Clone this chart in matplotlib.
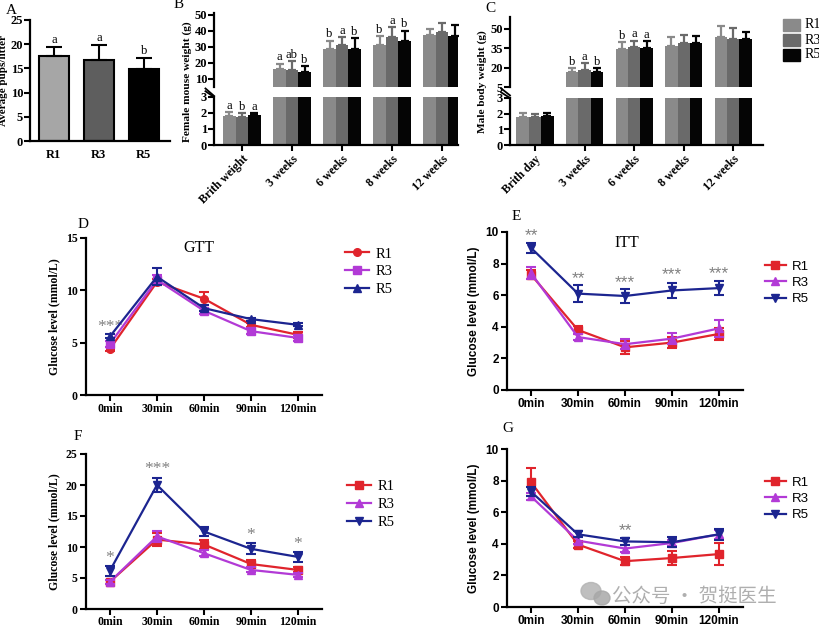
import matplotlib
matplotlib.use("Agg")
import matplotlib.pyplot as plt
from matplotlib.patches import Ellipse
import numpy as np

W, H = 820, 630
SERIF = "Liberation Serif"
SANS = "Liberation Sans"

groups = ["R1", "R3", "R5"]

# A - litter size
pups_mean = [17.6, 16.8, 14.9]
pups_err = [1.8, 3.1, 2.3]
pups_letters = ["a", "a", "b"]

# B - female weight
female_ages = ["Brith weight", "3 weeks", "6 weeks", "8 weeks", "12 weeks"]
female_r1 = [1.8, 16.2, 28.7, 30.9, 37.5]
female_r3 = [1.75, 15.3, 31.4, 36.0, 38.9]
female_r5 = [1.85, 14.3, 28.7, 33.9, 37.0]
female_r1_err = [0.25, 3.3, 5.2, 5.6, 3.7]
female_r3_err = [0.25, 5.7, 4.6, 6.0, 6.1]
female_r5_err = [0.15, 3.5, 6.7, 6.1, 6.5]
female_r1_letters = ["a", "a", "b", "b", ""]
female_r3_letters = ["b", "ab", "a", "a", ""]
female_r5_letters = ["a", "b", "b", "b", ""]

# C - male weight
male_ages = ["Brith day", "3 weeks", "6 weeks", "8 weeks", "12 weeks"]
male_r1 = [1.77, 16.5, 34.0, 36.5, 43.2]
male_r3 = [1.8, 18.3, 35.5, 39.0, 41.9]
male_r5 = [1.87, 16.8, 34.8, 38.6, 41.7]
male_r1_err = [0.3, 3.1, 5.4, 7.2, 8.8]
male_r3_err = [0.2, 5.0, 5.1, 6.0, 8.7]
male_r5_err = [0.17, 2.8, 5.6, 5.9, 5.8]
male_r1_letters = ["", "b", "b", "", ""]
male_r3_letters = ["", "a", "a", "", ""]
male_r5_letters = ["", "b", "a", "", ""]

# D-G - glucose curves
time_labels = ["0min", "30min", "60min", "90min", "120min"]

gtt_r1 = [4.4, 10.8, 9.2, 6.7, 5.75]
gtt_r3 = [4.9, 11.0, 8.05, 6.1, 5.45]
gtt_r5 = [5.6, 11.3, 8.3, 7.25, 6.7]
gtt_r1_err = [0.2, 0.3, 0.6, 0.2, 0.3]
gtt_r3_err = [0.3, 0.5, 0.3, 0.3, 0.3]
gtt_r5_err = [0.2, 0.8, 0.3, 0.15, 0.15]
gtt_stars = ["***", "", "", "", ""]
gtt_star_y = [5.7, 0, 0, 0, 0]

itt_r1 = [7.3, 3.8, 2.7, 3.0, 3.55]
itt_r3 = [7.4, 3.35, 2.9, 3.25, 3.9]
itt_r5 = [9.0, 6.1, 5.95, 6.3, 6.45]
itt_r1_err = [0.3, 0.25, 0.4, 0.35, 0.4]
itt_r3_err = [0.4, 0.2, 0.3, 0.35, 0.55]
itt_r5_err = [0.3, 0.55, 0.45, 0.5, 0.45]
itt_stars = ["**", "**", "***", "***", "***"]
itt_star_y = [9.3, 6.6, 6.3, 6.8, 6.9]

f_r1 = [4.4, 11.2, 10.4, 7.25, 6.3]
f_r3 = [4.4, 11.7, 9.0, 6.3, 5.5]
f_r5 = [6.2, 20.0, 12.5, 9.7, 8.4]
f_r1_err = [0.3, 1.0, 0.8, 0.6, 0.4]
f_r3_err = [0.3, 0.9, 0.5, 0.4, 0.3]
f_r5_err = [0.8, 1.2, 0.8, 0.9, 0.8]
f_stars = ["*", "***", "", "*", "*"]
f_star_y = [6.9, 21.3, 0, 10.6, 9.2]

g_r1 = [7.9, 3.95, 2.9, 3.1, 3.35]
g_r3 = [7.0, 4.2, 3.7, 4.05, 4.6]
g_r5 = [7.3, 4.6, 4.15, 4.1, 4.6]
g_r1_err = [0.9, 0.2, 0.25, 0.45, 0.7]
g_r3_err = [0.2, 0.2, 0.2, 0.2, 0.3]
g_r5_err = [0.3, 0.2, 0.2, 0.3, 0.35]
g_stars = ["", "", "**", "", ""]
g_star_y = [0, 0, 4.35, 0, 0]

bar_colors = ["#8a8a8a", "#6a6a6a", "#050505"]
line_colors = ["#e0242c", "#b23ad6", "#1c2590"]

fig = plt.figure(figsize=(W / 100, H / 100), dpi=100)


def px_axes(left, top, right, bottom):
    return fig.add_axes([left / W, 1 - bottom / H, (right - left) / W, (bottom - top) / H])


def style_axes(ax, family, size, left=True, bottom=True):
    for side in ["top", "right"]:
        ax.spines[side].set_visible(False)
    ax.spines["left"].set_visible(left)
    ax.spines["bottom"].set_visible(bottom)
    for side in ["left", "bottom"]:
        ax.spines[side].set_linewidth(1.6)
    ax.tick_params(width=1.5, length=4, pad=2)
    for lab in ax.get_xticklabels() + ax.get_yticklabels():
        lab.set_family(family)
        lab.set_fontweight("bold")
        lab.set_fontsize(size)


def panel_letter(x, y, s):
    fig.text(x / W, 1 - y / H, s, family=SERIF, fontsize=11, ha="center", va="center")


# ---------- A ----------
ax = px_axes(30, 20, 170, 141)
xa = np.arange(3)
ax.bar(xa, pups_mean, width=0.66, color=["#a6a6a6", "#5e5e5e", "#000000"],
       edgecolor="black", linewidth=1.5)
ax.errorbar(xa, pups_mean, yerr=[np.zeros(3), pups_err], fmt="none",
            ecolor="black", capsize=6, elinewidth=1.5, capthick=1.5)
for i in range(3):
    ax.text(xa[i], pups_mean[i] + pups_err[i] + 0.2, pups_letters[i],
            family=SERIF, fontsize=9, ha="center", va="bottom")
ax.set_xlim(-0.53, 2.58)
ax.set_ylim(0, 25)
ax.set_yticks([0, 5, 10, 15, 20, 25])
ax.set_xticks(xa)
ax.set_xticklabels(groups)
ax.set_ylabel("Average pups/litter", family=SERIF, fontweight="bold", fontsize=8)
ax.yaxis.set_label_coords(-0.155, 0.5)
style_axes(ax, SERIF, 9)
ax.tick_params(axis="y", pad=1)
ax.tick_params(axis="x", length=0, pad=6)
panel_letter(11, 10, "A")


# ---------- B and C : broken-axis bars ----------
def broken_bars(box_top, box_bottom, xlim, top_lim, top_ticks, series, errs, letters,
                ages, ylabel, label_x, label_y):
    ax_t = px_axes(*box_top)
    ax_b = px_axes(*box_bottom)
    x = np.arange(len(ages))
    offsets = [-0.25, 0.0, 0.25]
    for a in (ax_t, ax_b):
        for k in range(3):
            a.bar(x + offsets[k], series[k], width=0.25, color=bar_colors[k])
            a.errorbar(x + offsets[k], series[k], yerr=[np.zeros(len(x)), errs[k]],
                       fmt="none", ecolor=bar_colors[k], capsize=3,
                       elinewidth=1.6, capthick=1.6)
        a.set_xlim(*xlim)
    ax_t.set_ylim(*top_lim)
    ax_t.set_yticks(top_ticks)
    ax_t.set_xticks([])
    ax_b.set_ylim(0, 3)
    ax_b.set_yticks([0, 1, 2, 3])
    ax_b.set_xticks(x)
    ax_b.set_xticklabels(ages, rotation=45, ha="right", rotation_mode="anchor")
    style_axes(ax_t, SERIF, 9, bottom=False)
    style_axes(ax_b, SERIF, 9)
    for a in (ax_t, ax_b):
        a.tick_params(axis="y", pad=1)
    for lab in ax_b.get_xticklabels():
        lab.set_fontsize(8.5)
    for k in range(3):
        for i in range(len(x)):
            s = letters[k][i]
            if not s:
                continue
            top = series[k][i] + errs[k][i]
            if top < 3:
                ax_b.text(x[i] + offsets[k], top + 0.02, s, family=SERIF, fontsize=9,
                          ha="center", va="bottom")
            else:
                ax_t.text(x[i] + offsets[k], top + 0.3, s, family=SERIF, fontsize=9,
                          ha="center", va="bottom")
    # break marks on the y-axis
    kw = dict(color="black", lw=1.3, clip_on=False)
    ax_t.plot([-0.035, 0.0], [-0.02, -0.12], transform=ax_t.transAxes, **kw)
    ax_b.plot([-0.035, 0.0], [1.12, 1.0], transform=ax_b.transAxes, **kw)
    # y label placed in figure pixels
    fig.text(label_x / W, 1 - label_y / H, ylabel, family=SERIF, fontweight="bold",
             fontsize=8.2, rotation=90, ha="center", va="center")
    return ax_t, ax_b


female_series = [female_r1, female_r3, female_r5]
female_errs = [female_r1_err, female_r3_err, female_r5_err]
female_letters = [female_r1_letters, female_r3_letters, female_r5_letters]
broken_bars((214, 13, 458, 87), (214, 97, 458, 145), (-0.56, 4.32), (5, 51),
            [10, 20, 30, 40, 50], female_series, female_errs, female_letters,
            female_ages, "Female mouse weight (g)", 187, 82)
panel_letter(179, 5, "B")

male_series = [male_r1, male_r3, male_r5]
male_errs = [male_r1_err, male_r3_err, male_r5_err]
male_letters = [male_r1_letters, male_r3_letters, male_r5_letters]
broken_bars((510, 17, 763, 87), (510, 98, 763, 145), (-0.505, 4.6), (5, 59),
            [5, 20, 35, 50], male_series, male_errs, male_letters,
            male_ages, "Male body weight (g)", 482, 82)
panel_letter(490, 8, "C")

# legend for the bar panels
for k in range(3):
    y = 25 + 15 * k
    fig.patches.append(plt.Rectangle((783 / W, 1 - (y + 6) / H), 17 / W, 12 / H,
                                     color=bar_colors[k], transform=fig.transFigure))
    fig.text(805 / W, 1 - y / H, groups[k], family=SERIF, fontsize=10, va="center")


# ---------- D-G : glucose curves ----------
def curve_panel(box, ylim, yticks, series, errs, markers, stars, star_y, family,
                legend_xy, title=None, title_xy=None):
    ax = px_axes(*box)
    x = np.arange(len(time_labels))
    handles = []
    for k in range(3):
        ax.errorbar(x, series[k], yerr=errs[k], fmt="none", ecolor=line_colors[k],
                    capsize=3.5, elinewidth=1.5, capthick=1.5, zorder=2 + k)
        h, = ax.plot(x, series[k], marker=markers[k], color=line_colors[k], lw=1.6,
                     ms=5.5, zorder=3 + k)
        handles.append(h)
    for i in range(len(x)):
        if stars[i]:
            ax.text(x[i], star_y[i], stars[i], color="#808080", fontsize=12.5,
                    family=family, ha="center", va="bottom")
    ax.set_xlim(-0.51, 4.51)
    ax.set_ylim(*ylim)
    ax.set_yticks(yticks)
    ax.set_xticks(x)
    ax.set_xticklabels(time_labels)
    ax.set_ylabel("Glucose level (mmol/L)", family=family, fontweight="bold", fontsize=8.5)
    style_axes(ax, family, 8.5)
    if title:
        ax.text(title_xy[0], title_xy[1], title, family=SERIF, fontsize=11.5,
                ha="center", va="center")
    lfs = 10.5 if family == SERIF else 9.5
    ax.legend(handles, groups, loc="upper left", frameon=False,
              bbox_to_anchor=(legend_xy[0] / W, 1 - legend_xy[1] / H),
              bbox_transform=fig.transFigure, prop={"family": family, "size": lfs},
              handlelength=1.6, handletextpad=0.5, labelspacing=0.3, borderpad=0)
    return ax


curve_panel((86, 238, 322, 395), (0, 15), [0, 5, 10, 15],
            [gtt_r1, gtt_r3, gtt_r5], [gtt_r1_err, gtt_r3_err, gtt_r5_err],
            ["o", "s", "^"], gtt_stars, gtt_star_y, SERIF, (338, 240),
            title="GTT", title_xy=(1.9, 14.0))
panel_letter(83, 224, "D")

curve_panel((507, 232, 743, 390), (0, 10), [0, 2, 4, 6, 8, 10],
            [itt_r1, itt_r3, itt_r5], [itt_r1_err, itt_r3_err, itt_r5_err],
            ["s", "^", "v"], itt_stars, itt_star_y, SANS, (758, 254),
            title="ITT", title_xy=(2.04, 9.3))
panel_letter(516, 217, "E")

ax_f = curve_panel((86, 454, 322, 609), (0, 25), [0, 5, 10, 15, 20, 25],
                   [f_r1, f_r3, f_r5], [f_r1_err, f_r3_err, f_r5_err],
                   ["s", "^", "v"], f_stars, f_star_y, SERIF, (340, 473))
ax_f.tick_params(axis="x", pad=1)
panel_letter(78, 437, "F")

curve_panel((507, 449, 743, 607), (0, 10), [0, 2, 4, 6, 8, 10],
            [g_r1, g_r3, g_r5], [g_r1_err, g_r3_err, g_r5_err],
            ["s", "^", "v"], g_stars, g_star_y, SANS, (758, 470))
panel_letter(508, 428, "G")

# watermark
fig.add_artist(Ellipse((591 / W, 1 - 591 / H), 20 / W, 17 / H, transform=fig.transFigure,
                       color="#b4b4b4", alpha=0.85))
fig.add_artist(Ellipse((602 / W, 1 - 598 / H), 16 / W, 14 / H, transform=fig.transFigure,
                       color="#a8a8a8", alpha=0.85))
fig.text(612 / W, 1 - 596 / H, "公众号 · 贺挺医生", family=["Noto Sans CJK SC", "DejaVu Sans"],
         fontsize=14, color="#a6a6a6", alpha=0.9, va="center")

fig.savefig("out.png", dpi=100)
